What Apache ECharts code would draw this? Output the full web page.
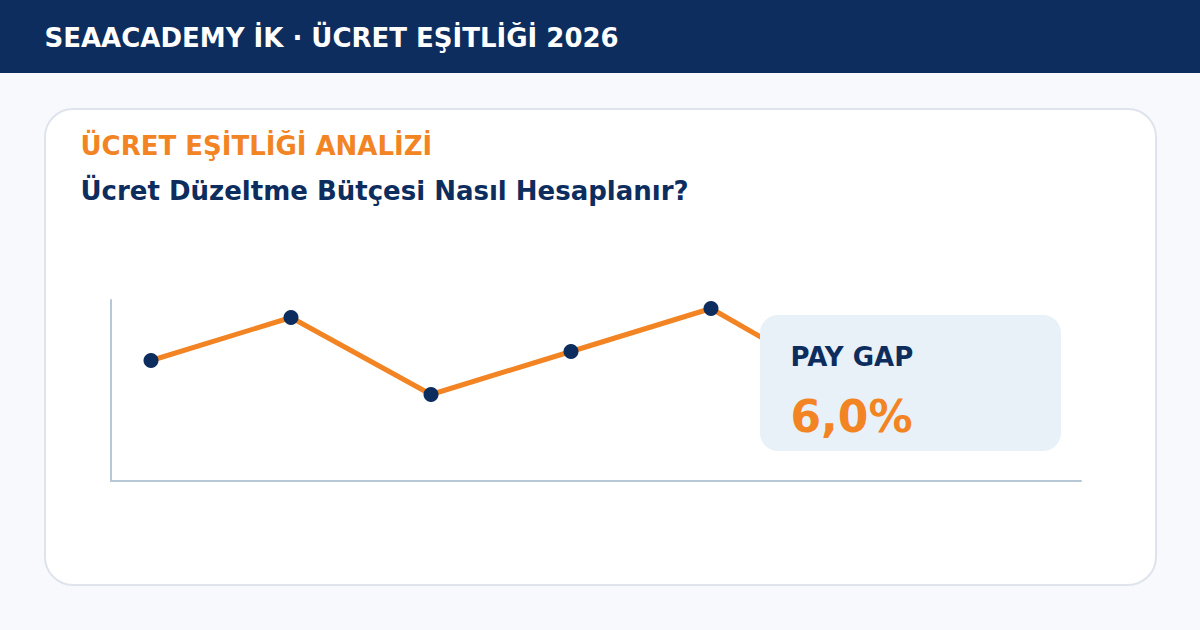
<!DOCTYPE html>
<html lang="tr">
<head>
<meta charset="utf-8">
<title>Ücret Eşitliği</title>
<script src="https://cdn.jsdelivr.net/npm/echarts@6/dist/echarts.min.js"></script>
<style>
  html, body { margin: 0; padding: 0; background: #f7f9fd; }
  #chart { width: 1200px; height: 630px; }
</style>
</head>
<body>
<div id="chart"></div>
<script>
// values; the last point sits behind the callout box
const xValues = [40, 180, 320, 460, 600, 740];
const yValues = [120.5, 163.5, 86.5, 129.5, 172.5, 92];

const headerText = "SEAACADEMY İK · ÜCRET EŞİTLİĞİ 2026";
const kicker = "ÜCRET EŞİTLİĞİ ANALİZİ";
const heading = "Ücret Düzeltme Bütçesi Nasıl Hesaplanır?";
const boxLabel = "PAY GAP";
const boxValue = "6,0%";

const NAVY = "#0d2d5e";
const ORANGE = "#f28423";
const AXIS = "#b8c7d6";
const FONT = '"DejaVu Sans", sans-serif';

const label = (x, y, text, fontSize, fill, z = 20) => ({
  type: "text", x, y, z,
  style: { text, fontFamily: FONT, fontWeight: "bold", fontSize, fill, textVerticalAlign: "middle" },
});

// svg renderer: its text comes out unhinted like the reference
const chart = echarts.init(document.getElementById("chart"), null, { renderer: "svg" });

chart.setOption({
  animation: false,
  backgroundColor: "#f7f9fd",
  grid: { left: 111, top: 300, width: 970, height: 181 },
  xAxis: {
    type: "value", min: 0, max: 970,
    axisLine: { show: true, lineStyle: { color: AXIS, width: 2 } },
    axisTick: { show: false }, axisLabel: { show: false }, splitLine: { show: false },
  },
  yAxis: {
    type: "value", min: 0, max: 181,
    axisLine: { show: true, lineStyle: { color: AXIS, width: 2 } },
    axisTick: { show: false }, axisLabel: { show: false }, splitLine: { show: false },
  },
  series: [{
    type: "line",
    data: xValues.map((x, i) => [x, yValues[i]]),
    symbol: "circle",
    symbolSize: 15,
    z: 5,
    lineStyle: { color: ORANGE, width: 5 },
    itemStyle: { color: NAVY },
  }],
  graphic: { elements: [
    { type: "rect", z: -10, shape: { x: 0, y: 0, width: 1200, height: 73 }, style: { fill: NAVY } },
    { type: "rect", z: -10, shape: { x: 45, y: 109, width: 1111, height: 476, r: 28 },
      style: { fill: "#ffffff", stroke: "#dfe4ec", lineWidth: 2 } },
    label(44.5, 38, headerText, 26, "#ffffff"),
    label(80.5, 146, kicker, 26, ORANGE),
    label(80.5, 191, heading, 26, NAVY),
    { type: "rect", z: 15, shape: { x: 760, y: 315, width: 301, height: 136, r: 18 }, style: { fill: "#e9f1f8" } },
    label(790.5, 357, boxLabel, 26, NAVY),
    label(790.5, 416, boxValue, 44, ORANGE),
  ] },
});
</script>
</body>
</html>
